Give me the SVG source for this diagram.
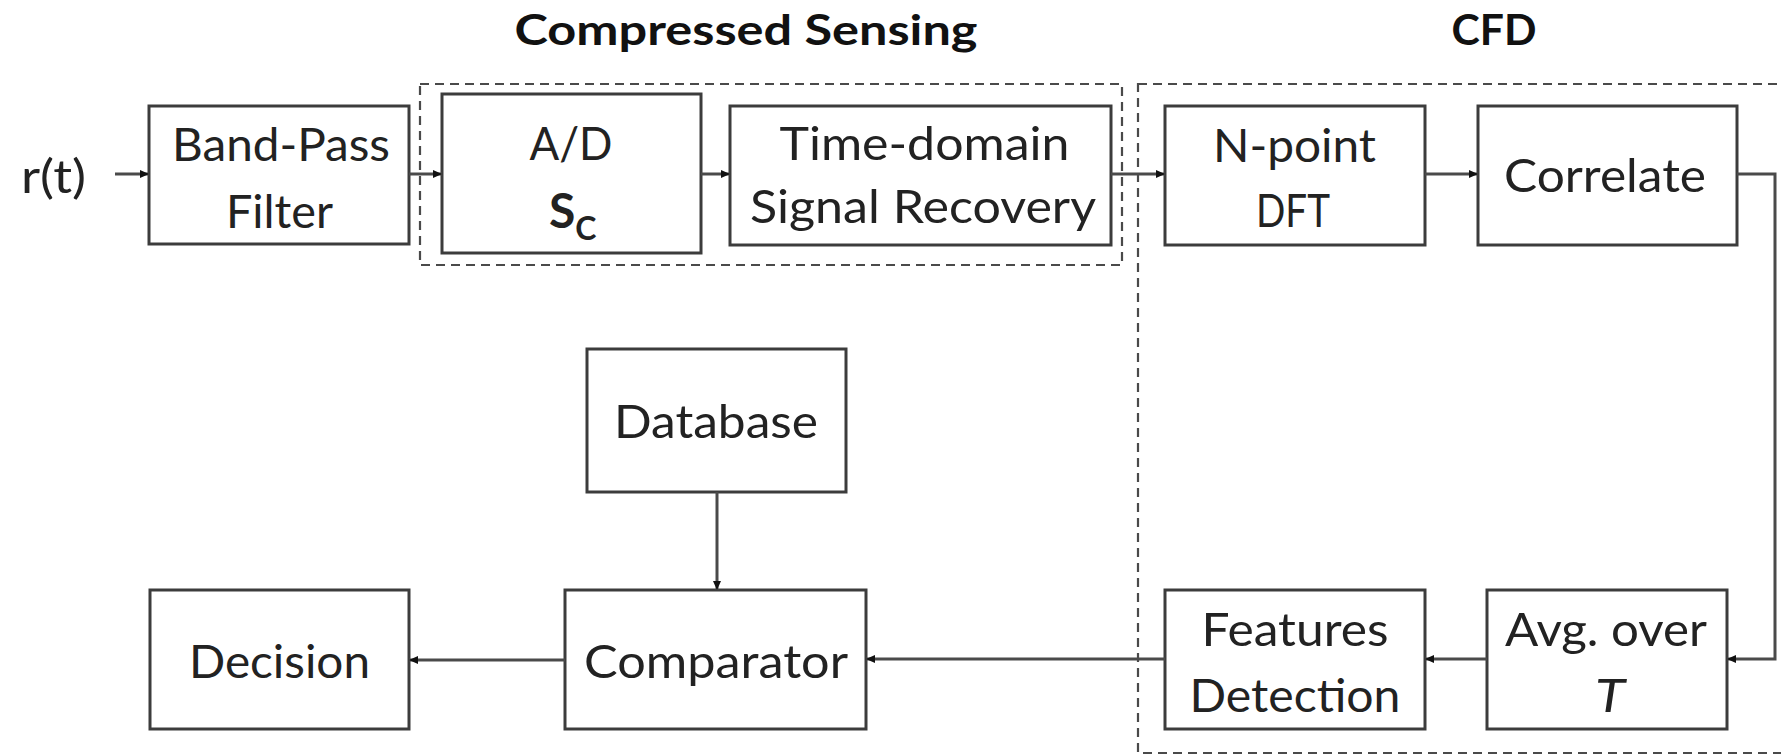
<svg xmlns="http://www.w3.org/2000/svg" width="1781" height="756" viewBox="0 0 1781 756">
<style>
.box{fill:#fff;stroke:#3c3c3c;stroke-width:3}
.grp{fill:none;stroke:#4a4a4a;stroke-width:2.2;stroke-dasharray:9 6}
.lbl{font-family:Lato,"Liberation Sans",sans-serif;font-size:47px;fill:#222;text-anchor:middle}
.ttl{font-family:Lato,"Liberation Sans",sans-serif;font-size:42px;font-weight:bold;fill:#111;text-anchor:middle}
.con{fill:none;stroke:#4a4a4a;stroke-width:3}
</style>
<defs>
<marker id="ah" markerUnits="userSpaceOnUse" markerWidth="9" markerHeight="8" refX="9" refY="4" orient="auto">
<path d="M0,0 L9,4 L0,8 z" fill="#111"/>
</marker>
</defs>
<rect width="1781" height="756" fill="#fff"/>

<g id="groups">
<rect class="grp" x="420" y="84" width="702" height="181"/>
<rect class="grp" x="1138" y="84" width="700" height="669"/>
<text class="ttl" x="746" y="45" textLength="463" lengthAdjust="spacingAndGlyphs">Compressed Sensing</text>
<text class="ttl" x="1494" y="45" textLength="85" lengthAdjust="spacingAndGlyphs">CFD</text>
</g>

<g id="input">
<text class="lbl" x="53.5" y="193" textLength="65" lengthAdjust="spacingAndGlyphs">r(t)</text>
</g>

<g id="bandpass">
<rect class="box" x="149" y="106" width="260" height="138"/>
<text class="lbl" x="281" y="161" textLength="218" lengthAdjust="spacingAndGlyphs">Band-Pass</text>
<text class="lbl" x="279.5" y="228" textLength="107" lengthAdjust="spacingAndGlyphs">Filter</text>
</g>

<g id="ad">
<rect class="box" x="442" y="94" width="259" height="159"/>
<text class="lbl" x="571" y="160" textLength="83" lengthAdjust="spacingAndGlyphs">A/D</text>
<text x="549" y="228" font-family="Lato,'Liberation Sans',sans-serif" font-size="48" font-weight="bold" fill="#222">S<tspan font-size="32" dy="12">C</tspan></text>
</g>

<g id="timedomain">
<rect class="box" x="730" y="106" width="381" height="139"/>
<text class="lbl" x="924.5" y="160" textLength="290" lengthAdjust="spacingAndGlyphs">Time-domain</text>
<text class="lbl" x="923" y="223" textLength="346" lengthAdjust="spacingAndGlyphs">Signal Recovery</text>
</g>

<g id="npoint">
<rect class="box" x="1165" y="106" width="260" height="139"/>
<text class="lbl" x="1294.5" y="162" textLength="163" lengthAdjust="spacingAndGlyphs">N-point</text>
<text class="lbl" x="1293" y="227" textLength="74" lengthAdjust="spacingAndGlyphs">DFT</text>
</g>

<g id="correlate">
<rect class="box" x="1478" y="106" width="259" height="139"/>
<text class="lbl" x="1605" y="192" textLength="202" lengthAdjust="spacingAndGlyphs">Correlate</text>
</g>

<g id="avg">
<rect class="box" x="1487" y="590" width="240" height="139"/>
<text class="lbl" x="1606" y="646" textLength="202" lengthAdjust="spacingAndGlyphs">Avg. over</text>
<text class="lbl" x="1610" y="712" font-style="italic" textLength="30" lengthAdjust="spacingAndGlyphs">T</text>
</g>

<g id="features">
<rect class="box" x="1165" y="590" width="260" height="139"/>
<text class="lbl" x="1295" y="646" textLength="187" lengthAdjust="spacingAndGlyphs">Features</text>
<text class="lbl" x="1295" y="712" textLength="211" lengthAdjust="spacingAndGlyphs">Detection</text>
</g>

<g id="database">
<rect class="box" x="587" y="349" width="259" height="143"/>
<text class="lbl" x="716" y="438" textLength="204" lengthAdjust="spacingAndGlyphs">Database</text>
</g>

<g id="comparator">
<rect class="box" x="565" y="590" width="301" height="139"/>
<text class="lbl" x="716" y="678" textLength="264" lengthAdjust="spacingAndGlyphs">Comparator</text>
</g>

<g id="decision">
<rect class="box" x="150" y="590" width="259" height="139"/>
<text class="lbl" x="279.5" y="678" textLength="181" lengthAdjust="spacingAndGlyphs">Decision</text>
</g>

<g id="connectors">
<line class="con" x1="115" y1="174" x2="149" y2="174" marker-end="url(#ah)"/>
<line class="con" x1="409" y1="174" x2="442" y2="174" marker-end="url(#ah)"/>
<line class="con" x1="701" y1="174" x2="730" y2="174" marker-end="url(#ah)"/>
<line class="con" x1="1111" y1="174" x2="1165" y2="174" marker-end="url(#ah)"/>
<line class="con" x1="1425" y1="174" x2="1478" y2="174" marker-end="url(#ah)"/>
<path class="con" d="M1737,174 H1775 V659 H1727" marker-end="url(#ah)"/>
<line class="con" x1="1487" y1="659" x2="1425" y2="659" marker-end="url(#ah)"/>
<line class="con" x1="1165" y1="659" x2="866" y2="659" marker-end="url(#ah)"/>
<line class="con" x1="565" y1="660" x2="409" y2="660" marker-end="url(#ah)"/>
<line class="con" x1="717" y1="492" x2="717" y2="590" marker-end="url(#ah)"/>
</g>
</svg>
